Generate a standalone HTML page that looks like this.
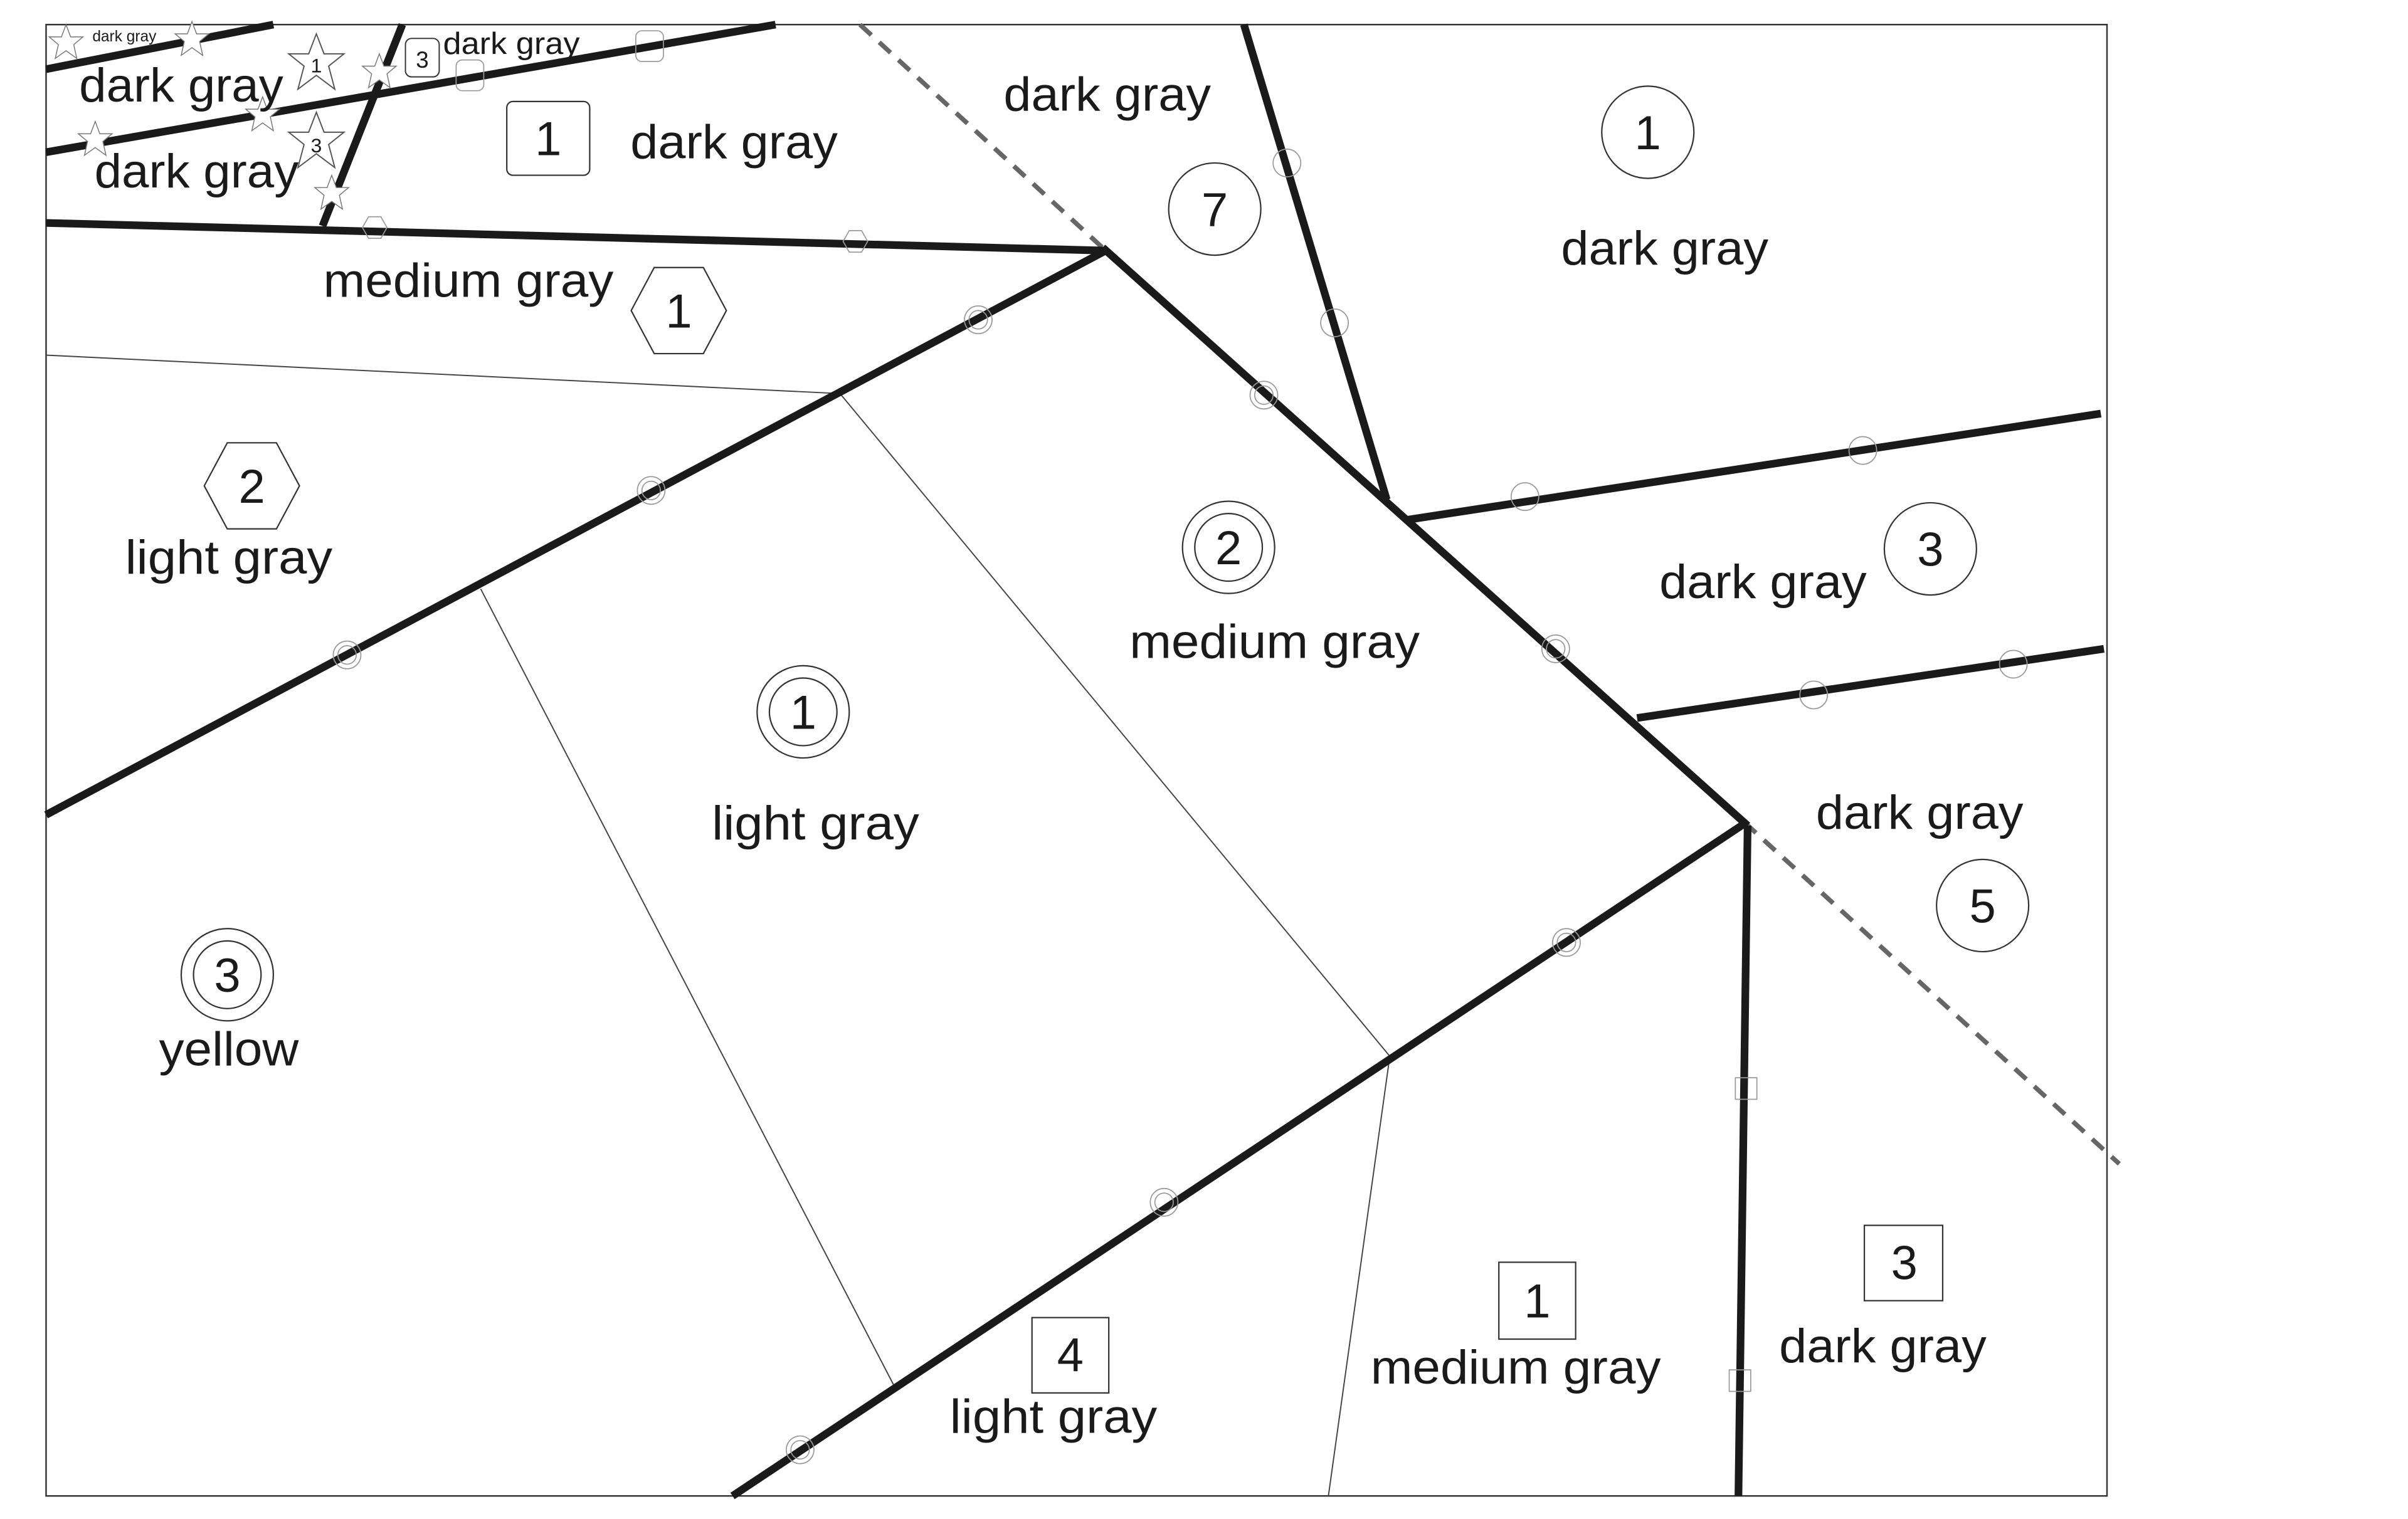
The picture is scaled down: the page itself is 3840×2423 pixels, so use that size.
<!DOCTYPE html>
<html><head><meta charset="utf-8"><style>
html,body{margin:0;padding:0;background:#fff;}
svg{display:block;}
text{font-family:"Liberation Sans",sans-serif;fill:#1a1a1a;}
</style></head><body>
<svg width="3840" height="2423" viewBox="0 0 1568 988" preserveAspectRatio="none" xmlns="http://www.w3.org/2000/svg">
<defs>
<polygon id="st" points="0,-12 3,-4 11,-4 5,1 7,10 0,5 -7,10 -5,1 -11,-4 -3,-4" fill="#fff" stroke="#777" stroke-width="0.6"/>
</defs>
<rect x="30" y="16" width="1342" height="957" fill="#fff" stroke="#333" stroke-width="1"/>
<g stroke="#444" stroke-width="0.8" fill="none">
<line x1="30" y1="231" x2="547" y2="256"/>
<line x1="547" y1="256" x2="905" y2="687"/>
<line x1="313" y1="383" x2="582" y2="901"/>
<line x1="905" y1="687" x2="865" y2="973"/>
</g>
<g stroke="#666" stroke-width="3" stroke-dasharray="10,7" fill="none">
<line x1="560" y1="16" x2="720" y2="163"/>
<line x1="1136" y1="535" x2="1380" y2="757"/>
</g>
<g stroke="#1a1a1a" stroke-width="5" fill="none" stroke-linecap="butt">
<line x1="30" y1="45" x2="178" y2="16"/>
<line x1="30" y1="99" x2="505" y2="16"/>
<line x1="262" y1="16" x2="210" y2="147"/>
<line x1="30" y1="145" x2="720" y2="163"/>
<line x1="720" y1="163" x2="30" y2="530"/>
<line x1="718" y1="161" x2="1138" y2="537"/>
<line x1="810" y1="16" x2="903" y2="325"/>
<line x1="917" y1="338" x2="1368" y2="269"/>
<line x1="1066" y1="467" x2="1370" y2="422"/>
<line x1="1137" y1="535" x2="477" y2="973"/>
<line x1="1138" y1="537" x2="1132" y2="973"/>
</g>
<g fill="none" stroke="#999" stroke-width="0.7">
<g>
<circle cx="637" cy="208" r="9"/><circle cx="424" cy="319" r="9"/><circle cx="226" cy="426" r="9"/>
<circle cx="823" cy="257" r="9"/><circle cx="869" cy="210" r="9"/><circle cx="838" cy="106" r="9"/>
<circle cx="993" cy="323" r="9"/><circle cx="1213" cy="293" r="9"/><circle cx="1013" cy="422" r="9"/>
<circle cx="1181" cy="452" r="9"/><circle cx="1311" cy="432" r="9"/><circle cx="1020" cy="613" r="9"/>
<circle cx="758" cy="782" r="9"/><circle cx="521" cy="943" r="9"/>
</g>
<g>
<circle cx="637" cy="208" r="6"/><circle cx="424" cy="319" r="6"/><circle cx="226" cy="426" r="6"/>
<circle cx="823" cy="257" r="6"/><circle cx="1013" cy="422" r="6"/><circle cx="1020" cy="613" r="6"/>
<circle cx="758" cy="782" r="6"/><circle cx="521" cy="943" r="6"/>
</g>
<rect x="1130" y="701" width="14" height="14"/><rect x="1126" y="891" width="14" height="14"/>
<polygon points="236,148 240,141 248,141 252,148 248,155 240,155"/>
<polygon points="549,157 553,150 561,150 565,157 561,164 553,164"/>
<rect x="297" y="39" width="18" height="20" rx="4"/><rect x="414" y="20" width="18" height="20" rx="4"/>
</g>
<use href="#st" x="43" y="28"/>
<use href="#st" x="125" y="26"/>
<use href="#st" x="171" y="75"/>
<use href="#st" x="62" y="91"/>
<use href="#st" x="247" y="47"/>
<use href="#st" x="216" y="126"/>
<polygon points="206,22 211,35 224,35 214,43 218,58 206,49 194,58 198,43 188,35 201,35" fill="#fff" stroke="#555" stroke-width="0.8"/>
<polygon points="206,73 211,86 224,86 214,94 218,109 206,100 194,109 198,94 188,86 201,86" fill="#fff" stroke="#555" stroke-width="0.8"/>
<text x="206" y="47" font-size="13" text-anchor="middle">1</text>
<text x="206" y="99" font-size="13" text-anchor="middle">3</text>
<rect x="264" y="25" width="22" height="25" rx="4" fill="#fff" stroke="#333" stroke-width="0.8"/>
<text x="275" y="44" font-size="15" text-anchor="middle">3</text>
<g fill="#fff" stroke="#333" stroke-width="0.9">
<rect x="330" y="66" width="54" height="48" rx="4"/>
<polygon points="411,202 426,174 458,174 473,202 458,230 426,230"/>
<circle cx="791" cy="136" r="30"/>
<circle cx="1073" cy="86" r="30"/>
<polygon points="133,316 148,288 180,288 195,316 180,344 148,344"/>
<circle cx="800" cy="356" r="30"/><circle cx="800" cy="356" r="22"/>
<circle cx="1257" cy="357" r="30"/>
<circle cx="523" cy="463" r="30"/><circle cx="523" cy="463" r="22"/>
<circle cx="1291" cy="589" r="30"/>
<circle cx="148" cy="634" r="30"/><circle cx="148" cy="634" r="22"/>
<rect x="672" y="857" width="50" height="49"/>
<rect x="976" y="821" width="50" height="50"/>
<rect x="1214" y="797" width="51" height="49"/>
</g>
<g font-size="31" text-anchor="middle">
<text x="357" y="101">1</text>
<text x="442" y="213">1</text>
<text x="791" y="147">7</text>
<text x="1073" y="97">1</text>
<text x="164" y="327">2</text>
<text x="800" y="367">2</text>
<text x="1257" y="368">3</text>
<text x="523" y="474">1</text>
<text x="1291" y="600">5</text>
<text x="148" y="645">3</text>
<text x="697" y="892">4</text>
<text x="1001" y="857">1</text>
<text x="1240" y="832">3</text>
</g>
<g font-size="31" text-anchor="middle">
<text x="118" y="66" textLength="133" lengthAdjust="spacingAndGlyphs">dark gray</text>
<text x="128" y="122" textLength="133" lengthAdjust="spacingAndGlyphs">dark gray</text>
<text x="478" y="103" textLength="135" lengthAdjust="spacingAndGlyphs">dark gray</text>
<text x="305" y="193" textLength="189" lengthAdjust="spacingAndGlyphs">medium gray</text>
<text x="721" y="72" textLength="135" lengthAdjust="spacingAndGlyphs">dark gray</text>
<text x="1084" y="172" textLength="135" lengthAdjust="spacingAndGlyphs">dark gray</text>
<text x="149" y="373" textLength="135" lengthAdjust="spacingAndGlyphs">light gray</text>
<text x="830" y="428" textLength="189" lengthAdjust="spacingAndGlyphs">medium gray</text>
<text x="1148" y="389" textLength="135" lengthAdjust="spacingAndGlyphs">dark gray</text>
<text x="531" y="546" textLength="135" lengthAdjust="spacingAndGlyphs">light gray</text>
<text x="1250" y="539" textLength="135" lengthAdjust="spacingAndGlyphs">dark gray</text>
<text x="149" y="693" textLength="91" lengthAdjust="spacingAndGlyphs">yellow</text>
<text x="686" y="932" textLength="135" lengthAdjust="spacingAndGlyphs">light gray</text>
<text x="987" y="900" textLength="189" lengthAdjust="spacingAndGlyphs">medium gray</text>
<text x="1226" y="886" textLength="135" lengthAdjust="spacingAndGlyphs">dark gray</text>
</g>
<text x="333" y="35" font-size="20" text-anchor="middle" textLength="89" lengthAdjust="spacingAndGlyphs">dark gray</text>
<text x="81" y="27" font-size="10" text-anchor="middle">dark gray</text>
</svg>
</body></html>
